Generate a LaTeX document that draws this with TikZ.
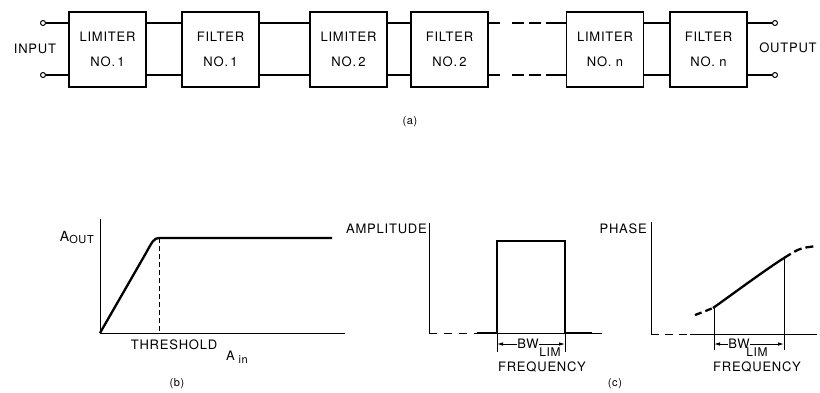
\documentclass[tikz,border=0pt]{standalone}
\usepackage{fontspec}
\setmainfont{TeX Gyre Heros}[LetterSpace=6]
\usetikzlibrary{arrows.meta,calc}
\begin{document}
\begin{tikzpicture}[x=1pt,y=-1pt,font=\fontsize{13}{15}\selectfont,
  blk/.style={draw,line width=1.2pt,minimum width=77pt,minimum height=75pt,inner sep=0pt,align=center,font=\fontsize{13}{25}\selectfont},
  wire/.style={line width=1.9pt},
  term/.style={circle,draw,line width=1pt,minimum size=5pt,inner sep=0pt,fill=white},
  axisline/.style={line width=1pt},
  curveline/.style={line width=2.3pt},
  dimline/.style={line width=0.8pt},
  dimarrow/.style={dimline,-{Latex[length=6pt,width=3.5pt]}},
  lbl/.style={inner sep=0pt},
  sub/.style={inner sep=0pt,font=\fontsize{12}{14}\selectfont}]
\useasboundingbox (0,0) rectangle (820,392);

% ---------- (a) ----------
\node[blk] (L1) at (107.5,49.5) {LIMITER\\NO.\,1};
\node[blk] (F1) at (220.5,49.5) {FILTER\\NO.\,1};
\node[blk] (L2) at (348.5,49.5) {LIMITER\\NO.\,2};
\node[blk] (F2) at (449.5,49.5) {FILTER\\NO.\,2};
\node[blk] (Ln) at (605,49.5) {LIMITER\\NO.\ n};
\node[blk] (Fn) at (708.5,49.5) {FILTER\\NO.\ n};

\node[term] (it) at (43,23) {};
\node[term] (ib) at (43,75) {};
\node[term] (ot) at (775,23) {};
\node[term] (ob) at (775,75) {};
\node[lbl] (inp) at (35,49) {INPUT};
\node[lbl] (outp) at (788,48) {OUTPUT};

\draw[wire] (it) -- ([yshift=26.5pt]L1.west);
\draw[wire] (ib) -- ([yshift=-25.5pt]L1.west);
\draw[wire] ([yshift=26.5pt]Fn.east) -- (ot);
\draw[wire] ([yshift=-25.5pt]Fn.east) -- (ob);
\foreach \a/\b in {L1/F1,F1/L2,L2/F2,Ln/Fn}{
  \draw[wire] ([yshift=26.5pt]\a.east) -- ([yshift=26.5pt]\b.west);
  \draw[wire] ([yshift=-25.5pt]\a.east) -- ([yshift=-25.5pt]\b.west);
}
\coordinate (ta) at (500,23); \coordinate (tb) at (512,23); \coordinate (tc) at (541,23); \coordinate (td) at (546,23);
\coordinate (ba) at (500,75); \coordinate (bb) at (512,75); \coordinate (bc) at (541,75); \coordinate (bd) at (546,75);
\draw[wire] ([yshift=26.5pt]F2.east) -- (ta);
\draw[wire,dash pattern=on 12pt off 5pt] (tb) -- (tc);
\draw[wire] (td) -- ([yshift=26.5pt]Ln.west);
\draw[wire] ([yshift=-25.5pt]F2.east) -- (ba);
\draw[wire,dash pattern=on 12pt off 5pt] (bb) -- (bc);
\draw[wire] (bd) -- ([yshift=-25.5pt]Ln.west);

\node[lbl,font=\fontsize{11}{13}\selectfont] (capa) at (410,122) {(a)};

% ---------- (b) ----------
\coordinate (bO) at (100,333);
\draw[axisline] (100,219) -- (bO) -- (345,333);
\draw[curveline] (bO) -- (146,253) .. controls (152,242) and (154,238) .. (159,238) -- (332,238);
\draw[axisline,dash pattern=on 5pt off 3pt] (159,238) -- (159,333);
\node[lbl,anchor=east] (aout) at (94,237) {\fontsize{14}{14}\selectfont A\raisebox{-2pt}{\fontsize{11}{11}\selectfont OUT}};
\node[lbl] (thr) at (174,345) {THRESHOLD};
\node[lbl] (ain) at (237,357) {A\raisebox{-3pt}{\fontsize{11}{11}\selectfont\ in}};
\node[lbl,font=\fontsize{11}{13}\selectfont] (capb) at (177,384) {(b)};

% ---------- (c) amplitude ----------
\draw[axisline] (429,223) -- (429,333);
\draw[axisline,dash pattern=on 8pt off 7pt] (429,333) -- (477,333);
\draw[axisline] (477,333) -- (602,333);
\draw[curveline] (477,333) -- (497,333) -- (497,241) -- (565,241) -- (565,333) -- (592,333);
\draw[dimline] (497,333) -- (497,352);
\draw[dimline] (565,333) -- (565,352);
\node[lbl] (bwa) at (528,344) {BW};
\node[sub] (lima) at (550,352) {LIM};
\draw[dimarrow] (bwa.west) -- (497,344);
\draw[dimarrow] (bwa.east) -- (565,344);
\node[lbl,anchor=east] (ampl) at (427,229) {AMPLITUDE};
\node[lbl] (freqa) at (542,367) {FREQUENCY};
\node[lbl,font=\fontsize{11}{13}\selectfont] (capc) at (615,384) {(c)};

% ---------- (c) phase ----------
\draw[axisline] (651,222) -- (651,334);
\draw[axisline,dash pattern=on 8pt off 6pt] (651,334) -- (690,334);
\draw[axisline] (690,334) -- (817,334);
\draw[curveline,dash pattern=on 7pt off 4pt] (695,315) .. controls (703,312) .. (713,308);
\draw[curveline] (713,308) .. controls (730,296) and (765,270) .. (784,258);
\draw[curveline,dash pattern=on 8pt off 4pt] (784,258) .. controls (800,248) .. (817,246);
\draw[dimline] (714,308) -- (714,350);
\draw[dimline] (784,258) -- (784,350);
\node[lbl] (bwp) at (739,344) {BW};
\node[sub] (limp) at (757,352) {LIM};
\draw[dimarrow] (bwp.west) -- (714,344);
\draw[dimarrow] (bwp.east) -- (784,344);
\node[lbl,anchor=east] (phs) at (647,229) {PHASE};
\node[lbl] (freqp) at (757,367) {FREQUENCY};
\end{tikzpicture}
\end{document}
